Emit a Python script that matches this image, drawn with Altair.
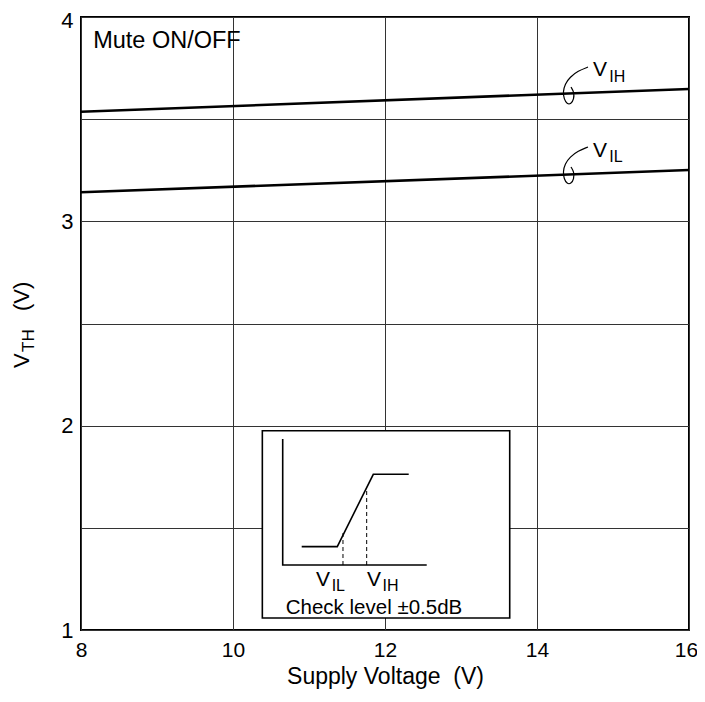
import altair as alt
import pandas as pd

FONT = "Liberation Sans"

# ---- main data ----
supply_v = [8, 16]
vth_ih = [3.536, 3.648]
vth_il = [3.142, 3.251]

x_ticks = [8, 10, 12, 14, 16]
y_ticks = [1, 1.5, 2, 2.5, 3, 3.5, 4]

# ---- leader hooks (data coords) ----
hook_x = [14.671, 14.539, 14.434, 14.368, 14.342, 14.355, 14.395, 14.447, 14.487, 14.487, 14.447]
hook_ih_y = [3.755, 3.736, 3.706, 3.672, 3.633, 3.599, 3.574, 3.574, 3.599, 3.633, 3.657]
hook_il_y = [3.364, 3.344, 3.315, 3.281, 3.242, 3.208, 3.183, 3.183, 3.208, 3.242, 3.266]

# ---- inset diagram (data coords) ----
box_x = [10.386, 13.641]
box_y = [1.059, 1.975]
inset_axis_x = [10.654, 10.654, 12.549]
inset_axis_y = [1.935, 1.318, 1.318]
inset_curve_x = [10.904, 11.372, 11.846, 12.312]
inset_curve_y = [1.408, 1.408, 1.762, 1.762]
dash_x = [11.447, 11.759]
dash_top = [1.475, 1.695]
dash_bottom = [1.318, 1.318]

xs = alt.Scale(domain=[8, 16], nice=False, zero=False)
ys = alt.Scale(domain=[1, 4], nice=False, zero=False)

X_AXIS = alt.Axis(
    values=x_ticks, title="Supply Voltage\u00a0\u00a0(V)", grid=True,
    gridColor="#333", gridWidth=1, ticks=False, domain=False, labelFlush=False,
    labelOffset={"condition": {"test": "datum.value == 16", "value": -3}, "value": 0},
    labelFont=FONT, labelFontSize=21, labelColor="black", labelPadding=9,
    titleFont=FONT, titleFontSize=23, titleFontWeight="normal", titleColor="black",
    titlePadding=5)
Y_AXIS = alt.Axis(
    values=y_ticks, title=None, grid=True, gridColor="#333", gridWidth=1,
    ticks=False, domain=False, labelFlush=False,
    labelOffset={"condition": {"test": "datum.value == 4", "value": 3}, "value": 0},
    labelExpr="datum.value % 1 == 0 ? format(datum.value, 'd') : ''",
    labelFont=FONT, labelFontSize=22, labelColor="black", labelPadding=8)


def X(field="x"):
    return alt.X(f"{field}:Q", scale=xs, axis=X_AXIS)


def Y(field="y"):
    return alt.Y(f"{field}:Q", scale=ys, axis=Y_AXIS)


curves = pd.DataFrame({
    "x": supply_v * 2,
    "y": vth_ih + vth_il,
    "s": ["VIH"] * 2 + ["VIL"] * 2,
})

main = alt.Chart(curves).mark_line(color="black", strokeWidth=2.6).encode(
    x=X(), y=Y(), detail="s:N")

hooks = pd.DataFrame({
    "x": hook_x * 2,
    "y": hook_ih_y + hook_il_y,
    "o": list(range(len(hook_x))) * 2,
    "g": ["IH"] * len(hook_x) + ["IL"] * len(hook_x),
})
hook_layer = alt.Chart(hooks).mark_line(color="black", strokeWidth=1.2, interpolate="basis").encode(
    x=X(), y=Y(), order="o:Q", detail="g:N")


def txt(df, size, align="left", baseline="alphabetic"):
    return alt.Chart(df).mark_text(font=FONT, fontSize=size, align=align,
                                   baseline=baseline, color="black").encode(
        x=X(), y=Y(), text="t:N")


big_v = pd.DataFrame({"x": [14.737, 14.737, 11.092, 11.763],
                      "y": [3.711, 3.315, 1.215, 1.215],
                      "t": ["V", "V", "V", "V"]})
subs = pd.DataFrame({"x": [14.950, 14.950, 11.298, 11.968],
                     "y": [3.684, 3.288, 1.192, 1.192],
                     "t": ["IH", "IL", "IL", "IH"]})
mute = pd.DataFrame({"x": [8.16], "y": [3.848], "t": ["Mute ON/OFF"]})
check = pd.DataFrame({"x": [11.855], "y": [1.078], "t": ["Check level \u00b10.5dB"]})

box = pd.DataFrame({"x": [box_x[0]], "x2": [box_x[1]], "y": [box_y[0]], "y2": [box_y[1]]})
box_layer = alt.Chart(box).mark_rect(fill="white", stroke="black", strokeWidth=1.6).encode(
    x=X(), x2="x2:Q", y=Y(), y2="y2:Q")

inset_lines = pd.DataFrame({
    "x": inset_axis_x + inset_curve_x,
    "y": inset_axis_y + inset_curve_y,
    "o": list(range(3)) + list(range(4)),
    "g": ["axis"] * 3 + ["curve"] * 4,
})
inset_layer = alt.Chart(inset_lines).mark_line(color="black", strokeWidth=1.6).encode(
    x=X(), y=Y(), order="o:Q", detail="g:N")

dashes = pd.DataFrame({"x": dash_x, "y": dash_bottom, "y2": dash_top})
dash_layer = alt.Chart(dashes).mark_rule(color="black", strokeWidth=1, strokeDash=[4, 3]).encode(
    x=X(), y=Y(), y2="y2:Q")


# y-axis title with subscript (rotated), placed in pixels left of the plot
def ytext(t, px, py, size):
    return alt.Chart(pd.DataFrame({"t": [t]})).mark_text(
        font=FONT, fontSize=size, angle=270, align="left",
        baseline="alphabetic", color="black").encode(
        x=alt.value(px), y=alt.value(py), text="t:N")


chart = alt.layer(
    main, hook_layer, box_layer, inset_layer, dash_layer,
    txt(big_v, 21), txt(subs, 16), txt(mute, 23.5), txt(check, 20.5, align="center"),
    ytext("V", -52, 351, 22), ytext("TH", -47, 335, 17), ytext("(V)", -52, 294, 22),
).properties(
    width=608, height=613,
    autosize=alt.AutoSizeParams(type="none"),
    padding={"left": 73, "top": 9, "right": 8, "bottom": 63},
).configure(background="white").configure_view(stroke="black", strokeWidth=2)

chart.save("out.html", embed_options={"renderer": "svg", "actions": False})
